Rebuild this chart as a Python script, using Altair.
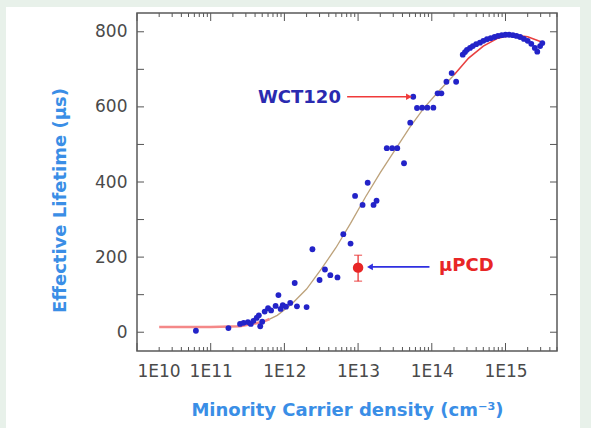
import altair as alt
import pandas as pd

# ---------------- data ----------------
wct_density = [6.3e10, 1.74e11, 2.5e11, 2.8e11, 3.2e11, 3.5e11, 3.8e11, 4.2e11, 4.5e11,
               4.7e11, 5.0e11, 5.4e11, 6.0e11, 6.6e11, 7.6e11, 8.3e11, 8.9e11, 9.5e11,
               1.05e12, 1.2e12, 1.38e12, 1.48e12, 2.0e12, 2.4e12, 3.0e12, 3.55e12, 4.2e12,
               5.25e12, 6.3e12, 7.9e12, 9.1e12, 1.15e13, 1.35e13, 1.62e13, 1.78e13,
               2.45e13, 2.9e13, 3.4e13, 4.2e13, 5.1e13, 5.6e13, 6.3e13, 7.4e13, 8.7e13,
               1.05e14, 1.2e14, 1.35e14, 1.58e14, 1.86e14, 2.14e14,
               2.63e14, 2.82e14, 3.0e14, 3.3e14, 3.6e14, 4.0e14, 4.5e14, 5.0e14, 5.6e14,
               6.3e14, 7.1e14, 7.9e14, 8.9e14, 1.0e15, 1.12e15, 1.26e15, 1.41e15, 1.58e15,
               1.78e15, 2.0e15, 2.24e15, 2.5e15, 2.7e15, 2.95e15, 3.16e15]
wct_lifetime = [4, 11, 22, 25, 27, 22, 30, 38, 45,
                16, 28, 55, 64, 58, 70, 99, 62, 72,
                68, 78, 131, 69, 67, 221, 139, 167, 152,
                146, 261, 236, 363, 339, 398, 339, 350,
                490, 490, 490, 450, 558, 627, 597, 598, 598,
                598, 636, 636, 667, 690, 667,
                739, 746, 752, 757, 762, 767, 771, 776, 780,
                783, 786, 789, 791, 792, 792, 791, 789, 786,
                781, 776, 768, 757, 747, 762, 770]

fit_density = [2e10, 1e11, 2.5e11, 5e11, 6.3e11, 8e11, 1.26e12, 2e12, 3.16e12, 5e12, 7.9e12,
               1.26e13, 2e13, 3.16e13, 5e13, 7.9e13, 1.26e14, 2e14, 3.16e14, 5e14,
               7.9e14, 1.26e15, 2e15, 3.16e15]
fit_lifetime = [14, 14, 16, 27, 35, 45, 75, 115, 168, 225, 290,
                360, 425, 485, 545, 598, 643, 685, 730, 762,
                783, 792, 787, 772]

upcd_density = [1e13]
upcd_lifetime = [172]
upcd_low = [136]
upcd_high = [205]

x_major = [1e10, 1e11, 1e12, 1e13, 1e14, 1e15]
x_minor = [k * m for m in x_major for k in range(2, 10) if k * m <= 5e15]
y_ticks = [0, 100, 200, 300, 400, 500, 600, 700, 800]
y_labels = [0, 200, 400, 600, 800]

# ---------------- styling ----------------
BLUE = "#2323c8"
RED = "#e82626"
TAN = "#bda27a"
TITLE_BLUE = "#3a8ee6"
W, H = 420, 338

def xe(field="n"):
    return alt.X(f"{field}:Q",
                 scale=alt.Scale(type="log", domain=[1e10, 5e15], nice=False),
                 axis=alt.Axis(values=x_major,
                               labelExpr="'1E' + round(log(datum.value) / LN10)",
                               ticks=False, domain=False, grid=False, zindex=2,
                               labelPadding=12, labelFontSize=17,
                               labelFont="DejaVu Sans", labelColor="#4a4a4a",
                               title="Minority Carrier density (cm⁻³)",
                               titleFont="DejaVu Sans", titleFontSize=18,
                               titleFontWeight="bold", titleColor=TITLE_BLUE,
                               titleBaseline="middle", titleY=59))

def ye(field="tau"):
    return alt.Y(f"{field}:Q",
                 scale=alt.Scale(domain=[-50, 850], nice=False, zero=False),
                 axis=alt.Axis(values=y_labels, ticks=False, domain=False, grid=False,
                               zindex=2,
                               labelPadding=10, labelFontSize=17,
                               labelFont="DejaVu Sans", labelColor="#4a4a4a",
                               title="Effective Lifetime (μs)",
                               titleFont="DejaVu Sans", titleFontSize=18,
                               titleFontWeight="bold", titleColor=TITLE_BLUE,
                               titleBaseline="middle", titleX=-77, titleY=187))

wct = pd.DataFrame({"n": wct_density, "tau": wct_lifetime})
fit = pd.DataFrame({"n": fit_density, "tau": fit_lifetime})
upcd = pd.DataFrame({"n": upcd_density, "tau": upcd_lifetime,
                     "lo": upcd_low, "hi": upcd_high})
xmaj = pd.DataFrame({"n": x_major})
xmin = pd.DataFrame({"n": x_minor})
yt = pd.DataFrame({"tau": y_ticks})
one = pd.DataFrame({"a": [0]})

panel = alt.Chart(one).mark_rect(color="white").encode(
    x=alt.value(-131), x2=alt.value(443), y=alt.value(-6), y2=alt.value(415))
frame = alt.Chart(one).mark_rect(filled=False, stroke="#5a5a5a", strokeWidth=1.5).encode(
    x=alt.value(0), x2=alt.value(W), y=alt.value(0), y2=alt.value(H))

fit_left = alt.Chart(fit).transform_filter("datum.n <= 6.3e11").mark_line(
    color="#f06060", strokeWidth=2.6, opacity=0.75).encode(x=xe(), y=ye())
fit_mid = alt.Chart(fit).transform_filter("datum.n >= 6.3e11 && datum.n <= 2e14").mark_line(
    color=TAN, strokeWidth=1.3).encode(x=xe(), y=ye())
fit_right = alt.Chart(fit).transform_filter("datum.n >= 2e14").mark_line(
    color="#e84040", strokeWidth=1.6).encode(x=xe(), y=ye())

points = alt.Chart(wct).mark_circle(color=BLUE, size=34, opacity=1).encode(x=xe(), y=ye())

err = alt.Chart(upcd).mark_rule(color=RED, strokeWidth=1.2).encode(
    x=xe(), y=ye("lo"), y2="hi:Q")
cap_lo = alt.Chart(upcd).mark_tick(color=RED, orient="horizontal", size=8, thickness=1.2).encode(
    x=xe(), y=ye("lo"))
cap_hi = alt.Chart(upcd).mark_tick(color=RED, orient="horizontal", size=8, thickness=1.2).encode(
    x=xe(), y=ye("hi"))
upcd_pt = alt.Chart(upcd).mark_circle(color=RED, size=110, opacity=1).encode(x=xe(), y=ye())

# annotations (arrows + labels)
wct_arrow = pd.DataFrame({"n": [7.1e12], "n2": [4.7e13], "tau": [627]})
wct_head = pd.DataFrame({"n": [4.9e13], "tau": [627]})
wct_text = pd.DataFrame({"n": [1.6e12], "tau": [623], "label": ["WCT120"]})
pcd_arrow = pd.DataFrame({"n": [9.3e13], "n2": [1.5e13], "tau": [174]})
pcd_head = pd.DataFrame({"n": [1.45e13], "tau": [174]})
pcd_text = pd.DataFrame({"n": [2.95e14], "tau": [176], "label": ["μPCD"]})

a1 = alt.Chart(wct_arrow).mark_rule(color="#f03a3a", strokeWidth=1.6).encode(
    x=xe(), x2="n2:Q", y=ye())
h1 = alt.Chart(wct_head).mark_point(shape="triangle-right", filled=True, size=45,
                                     color="#f03a3a", opacity=1).encode(x=xe(), y=ye())
t1 = alt.Chart(wct_text).mark_text(font="DejaVu Sans", fontSize=18, fontWeight="bold",
                                    color="#2a2ab0", align="center", baseline="middle").encode(
    x=xe(), y=ye(), text="label:N")
a2 = alt.Chart(pcd_arrow).mark_rule(color="#2f2fe0", strokeWidth=1.6).encode(
    x=xe(), x2="n2:Q", y=ye())
h2 = alt.Chart(pcd_head).mark_point(shape="triangle-left", filled=True, size=45,
                                     color="#2f2fe0", opacity=1).encode(x=xe(), y=ye())
t2 = alt.Chart(pcd_text).mark_text(font="DejaVu Sans", fontSize=18, fontWeight="bold",
                                    color=RED, align="center", baseline="middle").encode(
    x=xe(), y=ye(), text="label:N")

# inward ticks on all four sides
TC = "#555555"
yl = alt.Chart(yt).mark_rule(color=TC).encode(y=ye(), x=alt.value(0), x2=alt.value(7))
yr = alt.Chart(yt).mark_rule(color=TC).encode(y=ye(), x=alt.value(W), x2=alt.value(W - 7))
xbM = alt.Chart(xmaj).mark_rule(color=TC).encode(x=xe(), y=alt.value(H), y2=alt.value(H - 8))
xbm = alt.Chart(xmin).mark_rule(color=TC).encode(x=xe(), y=alt.value(H), y2=alt.value(H - 4))
xtM = alt.Chart(xmaj).mark_rule(color=TC).encode(x=xe(), y=alt.value(0), y2=alt.value(8))
xtm = alt.Chart(xmin).mark_rule(color=TC).encode(x=xe(), y=alt.value(0), y2=alt.value(4))

chart = alt.layer(
    panel, fit_left, fit_mid, fit_right, points, err, cap_lo, cap_hi, upcd_pt,
    a1, h1, t1, a2, h2, t2, yl, yr, xbM, xbm, xtM, xtm, frame
).properties(
    width=W, height=H,
    autosize=alt.AutoSizeParams(type="none"),
    padding={"left": 137, "top": 13, "right": 34, "bottom": 77},
    background="#e8f1ea",
).configure_view(stroke=None)

chart.save("out.html", embed_options={"renderer": "svg", "actions": False})
